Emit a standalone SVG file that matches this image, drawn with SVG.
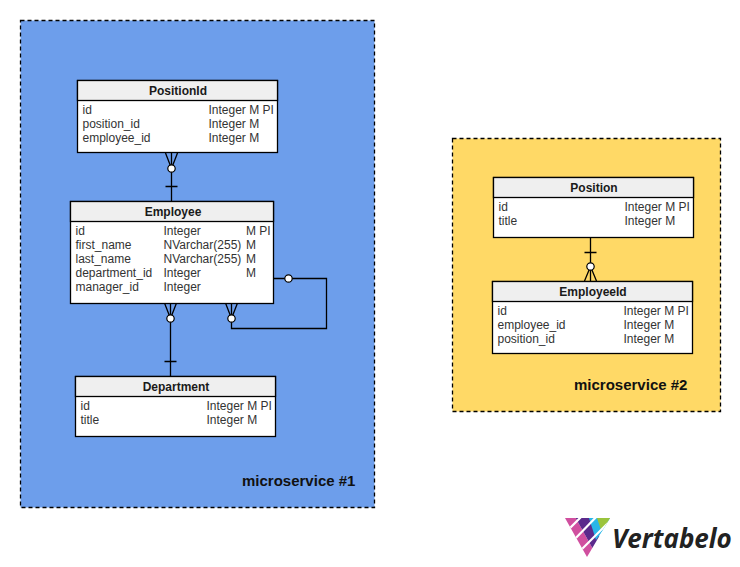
<svg xmlns="http://www.w3.org/2000/svg" width="740" height="567" viewBox="0 0 740 567">
<style>
text{font-family:"Liberation Sans",Arial,sans-serif;font-size:12px;fill:#333}
.t{font-weight:bold;text-anchor:middle;fill:#1a1a1a}
.ms{font-weight:bold;font-size:15px;fill:#111}
.zone{stroke:#000;stroke-width:1.3;stroke-dasharray:4 3}
.box{fill:#fff;stroke:#000;stroke-width:1.3}
.head{fill:#efefef;stroke:#000;stroke-width:1.3}
.c{fill:none;stroke:#000;stroke-width:1.3}
.o{fill:#fff;stroke:#000;stroke-width:1.2}
.cut{stroke:#fff;stroke-width:2.2}
</style>
<defs><clipPath id="tri"><polygon points="565,518 610,518 587,557"/></clipPath></defs>
<g id="zone1"><rect class="zone" x="20.500" y="20.500" width="354" height="487" fill="#6d9eeb"/><text class="ms" x="242" y="486">microservice #1</text></g>
<g id="zone2"><rect class="zone" x="452.500" y="138.500" width="268" height="273" fill="#ffd966"/><text class="ms" x="574" y="390">microservice #2</text></g>
<g id="connectors">
<path class="c" d="M171.500 153V201M165.500 186.500H177.500M165.500 153L171.500 168.500M177.500 153L171.500 168.500"/><circle class="o" cx="171.500" cy="168.500" r="3.700"/>
<path class="c" d="M170.500 303V376M164.500 361.500H176.500M164.500 303L170.500 318.500M176.500 303L170.500 318.500"/><circle class="o" cx="170.500" cy="318.500" r="3.700"/>
<path class="c" d="M273 278.500H326.500V328.500H231.500V303M225.500 303L231.500 318.500M237.500 303L231.500 318.500"/><circle class="o" cx="288.500" cy="278.500" r="3.700"/><circle class="o" cx="231.500" cy="318.500" r="3.700"/>
<path class="c" d="M590.500 237V281M584.500 252.500H596.500M584.500 281L590.500 266.500M596.500 281L590.500 266.500"/><circle class="o" cx="590.500" cy="266.500" r="3.700"/>
</g>
<g id="PositionId"><rect class="box" x="77.500" y="80.500" width="200" height="72"/><rect class="head" x="77.500" y="80.500" width="200" height="20"/><text class="t" x="178" y="95">PositionId</text>
<text x="82.500" y="114">id</text><text x="208.500" y="114">Integer M PI</text><text x="82.500" y="128">position_id</text><text x="208.500" y="128">Integer M</text><text x="82.500" y="142">employee_id</text><text x="208.500" y="142">Integer M</text></g>
<g id="Employee"><rect class="box" x="70.500" y="201.500" width="203" height="102"/><rect class="head" x="70.500" y="201.500" width="203" height="20"/><text class="t" x="173" y="216">Employee</text>
<text x="75.500" y="235">id</text><text x="163.500" y="235">Integer</text><text x="246" y="235">M PI</text>
<text x="75.500" y="249">first_name</text><text x="163.500" y="249">NVarchar(255)</text><text x="246" y="249">M</text>
<text x="75.500" y="263">last_name</text><text x="163.500" y="263">NVarchar(255)</text><text x="246" y="263">M</text>
<text x="75.500" y="277">department_id</text><text x="163.500" y="277">Integer</text><text x="246" y="277">M</text>
<text x="75.500" y="291">manager_id</text><text x="163.500" y="291">Integer</text></g>
<g id="Department"><rect class="box" x="75.500" y="376.500" width="200" height="60"/><rect class="head" x="75.500" y="376.500" width="200" height="20"/><text class="t" x="176" y="391">Department</text>
<text x="80.500" y="410">id</text><text x="206.500" y="410">Integer M PI</text><text x="80.500" y="424">title</text><text x="206.500" y="424">Integer M</text></g>
<g id="Position"><rect class="box" x="493.500" y="177.500" width="200" height="60"/><rect class="head" x="493.500" y="177.500" width="200" height="20"/><text class="t" x="594" y="192">Position</text>
<text x="498.500" y="211">id</text><text x="624.500" y="211">Integer M PI</text><text x="498.500" y="225">title</text><text x="624.500" y="225">Integer M</text></g>
<g id="EmployeeId"><rect class="box" x="492.500" y="281.500" width="200" height="72"/><rect class="head" x="492.500" y="281.500" width="200" height="20"/><text class="t" x="593" y="296">EmployeeId</text>
<text x="497.500" y="315">id</text><text x="623.500" y="315">Integer M PI</text><text x="497.500" y="329">employee_id</text><text x="623.500" y="329">Integer M</text><text x="497.500" y="343">position_id</text><text x="623.500" y="343">Integer M</text></g>
<g id="logo">
<g clip-path="url(#tri)">
<polygon points="560,515 574,515 599,560 584,560" fill="#d04f9f"/>
<polygon points="574,515 588,515 606,548 592,560 599,560" fill="#5b2a8c"/>
<polygon points="588,515 600,515 612,518 596,540" fill="#29b6e8"/>
<polygon points="596,515 612,515 612,519 601,530" fill="#9ac43c"/>
<line class="cut" x1="566" y1="532" x2="585" y2="513"/>
<line class="cut" x1="572" y1="542" x2="600" y2="513"/>
<line class="cut" x1="578" y1="553" x2="612" y2="519"/>
</g>
<text x="612" y="547.500" style="font-family:'Open Sans','Liberation Sans',sans-serif;font-size:26px;font-style:italic;font-weight:700;fill:#222">Vertabelo</text>
</g>
</svg>
